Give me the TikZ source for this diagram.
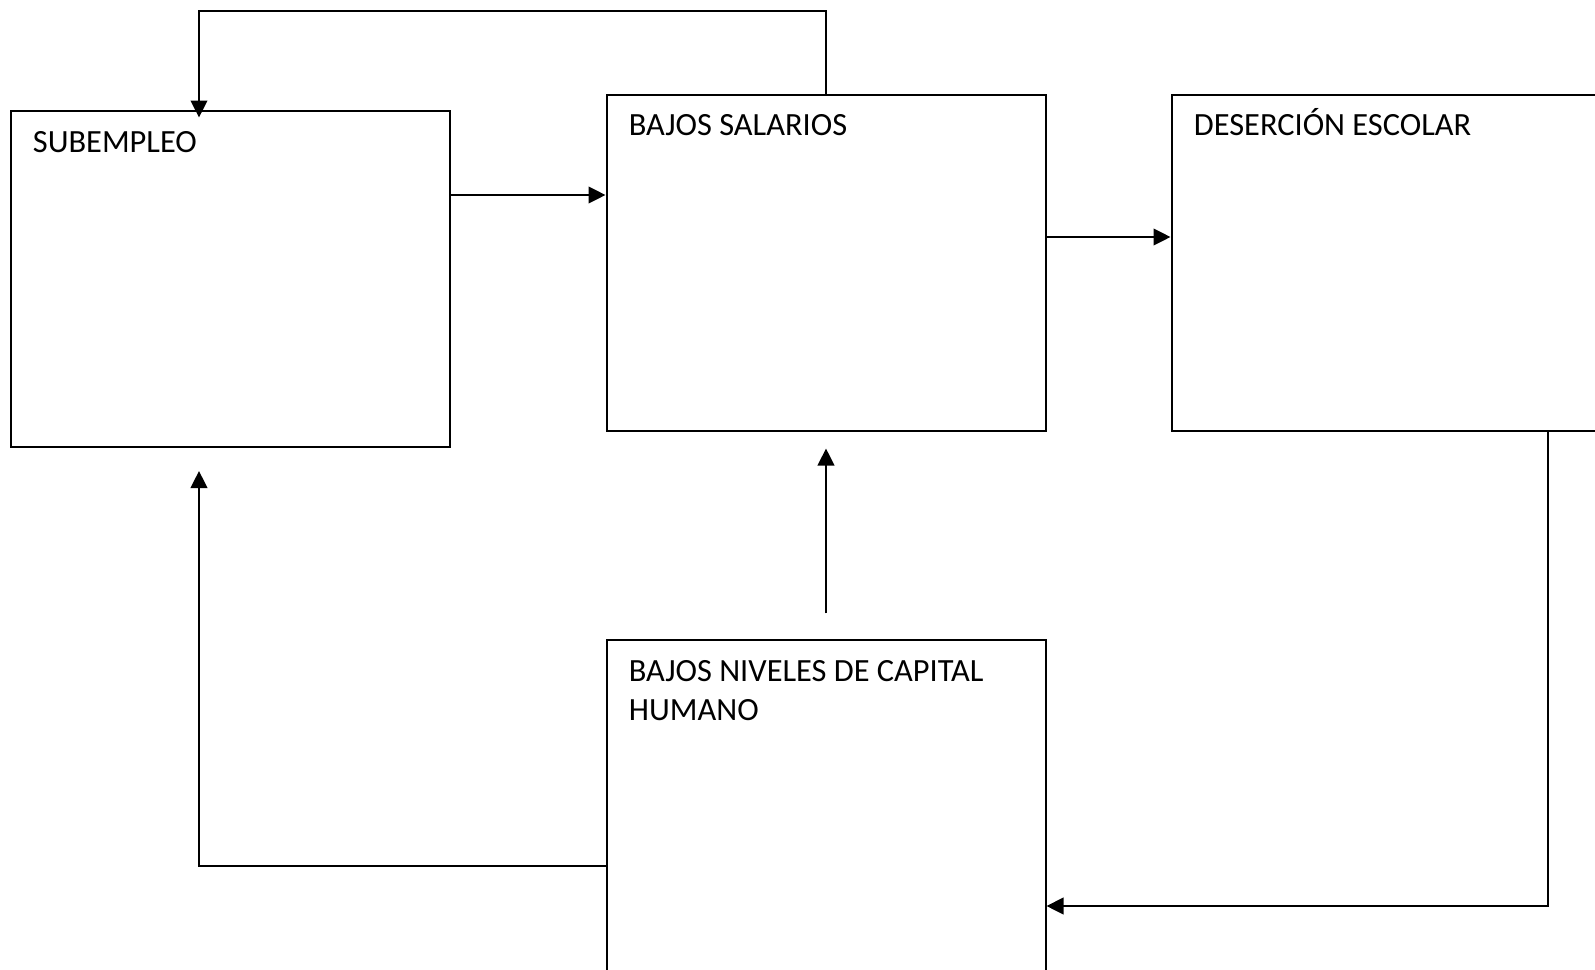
\documentclass[tikz,border=0pt]{standalone}
\usepackage{fontspec}
\setmainfont{Carlito}
\usetikzlibrary{arrows.meta}

\begin{document}
\begin{tikzpicture}[x=0.5pt, y=-0.5pt,
	caja/.style={draw, line width=1pt, rectangle, inner sep=0pt, minimum width=219.5pt, minimum height=168pt},
	texto/.style={anchor=base west, inner sep=0pt, align=left, font=\fontsize{16.2}{19.5}\selectfont},
	flecha/.style={line width=1pt, -{Triangle[length=8.5pt, width=8.3pt]}}]

		% Page frame
		\useasboundingbox (0,0) rectangle (1595,969);
		\clip (0,0) rectangle (1595,969);

		% Boxes
		\node[caja] (sub) at (230,279) {};
		\node[caja] (sal) at (826,262.5) {};
		\node[caja] (des) at (1391,262.5) {};
		\node[caja] (cap) at (826,808) {};

		% Labels inside the boxes (base of a two-line label is its last line)
		\node[texto] (subt) at ([xshift=11.5pt, yshift=-21pt]sub.north west) {SUBEMPLEO};
		\node[texto] (salt) at ([xshift=11.5pt, yshift=-21pt]sal.north west) {BAJOS SALARIOS};
		\node[texto] (dest) at ([xshift=11.5pt, yshift=-21pt]des.north west) {DESERCIÓN ESCOLAR};
		\node[texto] (capt) at ([xshift=11.5pt, yshift=-40.5pt]cap.north west) {BAJOS NIVELES DE CAPITAL\\HUMANO};

		% Corner points of the loops
		\coordinate (arriba) at (199,11);
		\coordinate (subin) at (199,471);

		% Arrows
		\draw[flecha] (sal.north) |- (arriba) -- ([yshift=-3.75pt]sub.north -| arriba);
		\draw[flecha] (sub.east |- 0,195) -- (sal.west |- 0,195);
		\draw[flecha] (sal.east |- 0,237) -- (des.west |- 0,237);
		\draw[flecha] ([yshift=12.8pt]cap.north) -- ([yshift=-8.5pt]sal.south);
		\draw[flecha] (des.south -| 1548,0) |- (cap.east |- 0,906);
		\draw[flecha] (cap.west |- 0,866) -| (subin);

	\end{tikzpicture}
\end{document}
